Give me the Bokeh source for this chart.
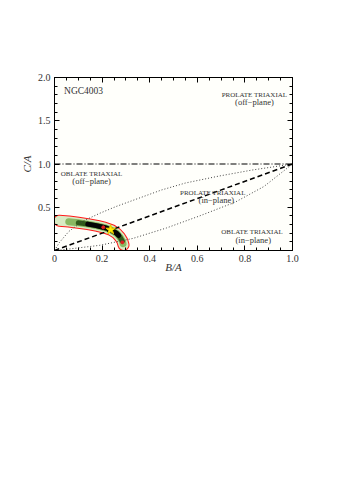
from bokeh.plotting import figure
from bokeh.models import Range1d, LinearAxis, FixedTicker, Label, CustomJSTickFormatter
from bokeh.embed import file_html
from bokeh.resources import INLINE

# ---------------- data ----------------
x_ticks = [0, 0.2, 0.4, 0.6, 0.8, 1.0]
x_minor = [0.05, 0.1, 0.15, 0.25, 0.3, 0.35, 0.45, 0.5, 0.55, 0.65, 0.7, 0.75, 0.85, 0.9, 0.95]
y_ticks = [0.5, 1.0, 1.5, 2.0]
y_minor = [0.1, 0.2, 0.3, 0.4, 0.6, 0.7, 0.8, 0.9, 1.1, 1.2, 1.3, 1.4, 1.6, 1.7, 1.8, 1.9]

# oblate limit (C/A = 1) and prolate line (C/A = B/A)
limit_x = [0.0, 1.0]
limit_y = [1.0, 1.0]
prolate_x = [0.0, 1.0]
prolate_y = [0.0, 1.0]

# dotted boundaries
upper_x = [0.0, 0.02, 0.06, 0.12, 0.19, 0.26, 0.36, 0.45, 0.55, 0.69, 0.83, 1.0]
upper_y = [0.0, 0.09, 0.22, 0.34, 0.43, 0.51, 0.61, 0.70, 0.78, 0.86, 0.93, 1.0]
lower_x = [0.0, 0.04, 0.19, 0.33, 0.47, 0.61, 0.76, 0.88, 1.0]
lower_y = [0.0, 0.01, 0.06, 0.14, 0.26, 0.40, 0.56, 0.74, 1.0]

# probability region (centre line of the banana)
band_x = [0.02, 0.06, 0.10, 0.14, 0.18, 0.21, 0.24, 0.26, 0.275, 0.285, 0.29]
band_y = [0.345, 0.335, 0.32, 0.305, 0.285, 0.265, 0.235, 0.20, 0.155, 0.11, 0.065]
mid_x = [0.06, 0.10, 0.14, 0.18, 0.21, 0.24, 0.26, 0.275, 0.285, 0.288]
mid_y = [0.333, 0.32, 0.305, 0.285, 0.265, 0.235, 0.20, 0.155, 0.11, 0.08]
dark_x = [0.10, 0.14, 0.18, 0.21, 0.24, 0.26, 0.275, 0.285]
dark_y = [0.32, 0.305, 0.285, 0.265, 0.235, 0.20, 0.155, 0.11]
core_x = [0.14, 0.17, 0.20, 0.22]
core_y = [0.305, 0.29, 0.272, 0.258]
core2_x = [0.245, 0.26, 0.27]
core2_y = [0.225, 0.20, 0.175]
peak_x = [0.285, 0.205]
peak_y = [0.095, 0.268]
best_x = [0.236]
best_y = [0.24]

# annotations
notes = [
    ("NGC4003", 0.04, 1.84, "left", 9.5),
    ("PROLATE TRIAXIAL", 0.84, 1.80, "center", 7),
    ("(off\u2212plane)", 0.84, 1.715, "center", 8.5),
    ("OBLATE TRIAXIAL", 0.156, 0.89, "center", 7),
    ("(off\u2212plane)", 0.156, 0.805, "center", 8.5),
    ("PROLATE TRIAXIAL", 0.665, 0.67, "center", 7),
    ("(in\u2212plane)", 0.68, 0.585, "center", 8.5),
    ("OBLATE TRIAXIAL", 0.83, 0.21, "center", 7),
    ("(in\u2212plane)", 0.835, 0.125, "center", 8.5),
]

SERIF = "Liberation Serif"

p = figure(width=322, height=466, output_backend="svg", toolbar_location=None,
           x_range=Range1d(0, 1), y_range=Range1d(0, 2),
           min_border_left=54, min_border_right=30, min_border_top=77,
           min_border_bottom=216, x_axis_label="B/A", y_axis_label="C/A")
p.background_fill_color = "#fffffb"
p.border_fill_color = "white"
p.outline_line_color = "black"
p.grid.visible = False

bottom = p.below[0]
left = p.left[0]

xt = FixedTicker(ticks=x_ticks, minor_ticks=x_minor)
yt = FixedTicker(ticks=y_ticks, minor_ticks=y_minor)

blank = CustomJSTickFormatter(code="return '';")
top = LinearAxis(ticker=xt, formatter=blank)
right = LinearAxis(ticker=yt, formatter=blank)
p.add_layout(top, "above")
p.add_layout(right, "right")

bottom.ticker = xt
left.ticker = yt
bottom.formatter = CustomJSTickFormatter(code="return tick == 0 ? '0' : tick.toFixed(1);")
left.formatter = CustomJSTickFormatter(code="return tick.toFixed(1);")

for ax in [bottom, left, top, right]:
    ax.major_tick_in = 5
    ax.major_tick_out = 0
    ax.minor_tick_in = 3
    ax.minor_tick_out = 0
    ax.axis_line_color = "black"
    ax.major_tick_line_color = "black"
    ax.minor_tick_line_color = "black"
    ax.major_label_text_font = SERIF
    ax.major_label_text_font_size = "10px"
    ax.major_label_text_color = "#333333"
    ax.major_label_standoff = 4
    ax.axis_label_text_font = SERIF
    ax.axis_label_text_font_style = "italic"
    ax.axis_label_text_font_size = "11px"
    ax.axis_label_text_color = "#333333"
bottom.axis_label_standoff = -4
left.axis_label_standoff = 2

# probability region
p.line(band_x, band_y, line_color="#ff1a1a", line_width=12, line_cap="round", line_join="round")
p.line(band_x, band_y, line_color="#d9ebc4", line_width=10, line_cap="round", line_join="round")
p.line(mid_x, mid_y, line_color="#8ab862", line_width=7, line_cap="round", line_join="round")
p.line(dark_x, dark_y, line_color="#2f5a1a", line_width=5, line_cap="round", line_join="round")
p.line(core_x, core_y, line_color="#050505", line_width=5, line_cap="round", line_join="round")
p.line(core2_x, core2_y, line_color="#050505", line_width=5, line_cap="round", line_join="round")
p.scatter(peak_x, peak_y, size=3, color="#e02020")

# boundaries
p.line(limit_x, limit_y, line_color="black", line_width=1.2, line_dash="6 2 1 2")
p.line(prolate_x, prolate_y, line_color="black", line_width=1.5, line_dash="5 3")
p.line(upper_x, upper_y, line_color="#444444", line_width=1, line_dash="1 2")
p.line(lower_x, lower_y, line_color="#444444", line_width=1, line_dash="1 2")

p.scatter(best_x, best_y, marker="star", size=10, fill_color="#ffee00",
          line_color="#e8c800", line_width=1)

for txt, x, y, align, fs in notes:
    p.add_layout(Label(x=x, y=y, text=txt, text_font=SERIF,
                       text_font_size=f"{fs}px", text_color="#333333",
                       text_align=align, text_baseline="middle"))

open("out.html", "w").write(file_html(p, INLINE))
